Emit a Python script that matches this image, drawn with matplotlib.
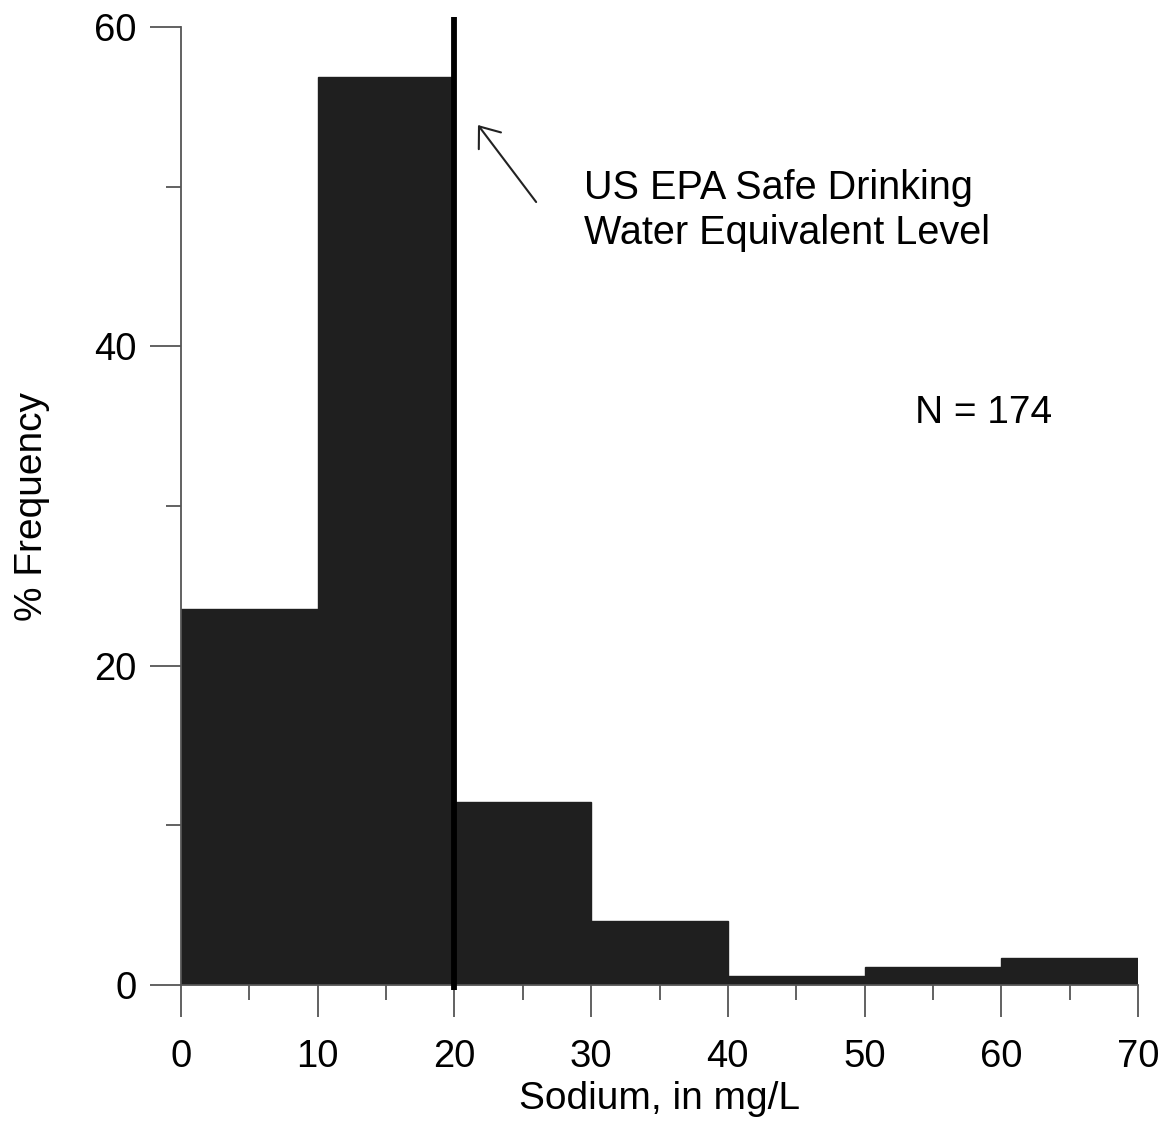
import numpy as np
import matplotlib.pyplot as plt
from matplotlib.ticker import MultipleLocator

plt.rcParams['font.family'] = ['Liberation Sans', 'DejaVu Sans']

# sodium histogram, 10 mg/L bins
bin_edges = [0, 10, 20, 30, 40, 50, 60, 70]
counts = [41, 99, 20, 7, 1, 2, 3]
n_samples = 174
epa_level = 20

pct = np.array(counts) / n_samples * 100

fig = plt.figure(figsize=(11.76, 11.25), dpi=100)
ax = fig.add_axes([0.1539, 0.1244, 0.8138, 0.8516])

left = np.array(bin_edges[:-1])
width = np.diff(bin_edges)
ax.bar(left, pct, width=width, align='edge', color='#1f1f1f',
       edgecolor='#1f1f1f', linewidth=1.0, zorder=2)

# EPA reference line
ax.plot([epa_level, epa_level], [-0.3, 60.6], color='black', lw=4.2,
        solid_capstyle='butt', clip_on=False, zorder=3)

ax.set_xlim(0, 70)
ax.set_ylim(0, 60)

for s in ['top', 'right']:
    ax.spines[s].set_visible(False)
ax.spines['left'].set_color('#555555')
ax.spines['left'].set_linewidth(1.3)
ax.spines['bottom'].set_color('#555555')
ax.spines['bottom'].set_linewidth(1.3)

ax.xaxis.set_major_locator(MultipleLocator(10))
ax.xaxis.set_minor_locator(MultipleLocator(5))
ax.yaxis.set_major_locator(MultipleLocator(20))
ax.yaxis.set_minor_locator(MultipleLocator(10))

ax.tick_params(axis='x', which='major', length=23, width=1.3, color='#555555',
               labelsize=27.5, pad=16)
ax.tick_params(axis='x', which='minor', length=11, width=1.3, color='#555555')
ax.tick_params(axis='y', which='major', length=22, width=1.3, color='#555555',
               labelsize=27.5, pad=10)
ax.tick_params(axis='y', which='minor', length=11, width=1.3, color='#555555')

ax.set_xlabel('Sodium, in mg/L', fontsize=28, labelpad=4)
ax.set_ylabel('% Frequency', fontsize=28, labelpad=32)

ax.annotate('', xy=(21.6, 54.0), xytext=(26.1, 48.9),
            arrowprops=dict(arrowstyle='->,head_length=1.3,head_width=1.0',
                            color='#222222', lw=1.5))
ax.text(29.5, 48.5, 'US EPA Safe Drinking\nWater Equivalent Level',
        fontsize=28.5, va='center', ha='left', linespacing=1.25)
ax.text(53.7, 35.8, 'N = %d' % n_samples, fontsize=28, va='center', ha='left')

fig.savefig('out.png', dpi=100, facecolor='white')
